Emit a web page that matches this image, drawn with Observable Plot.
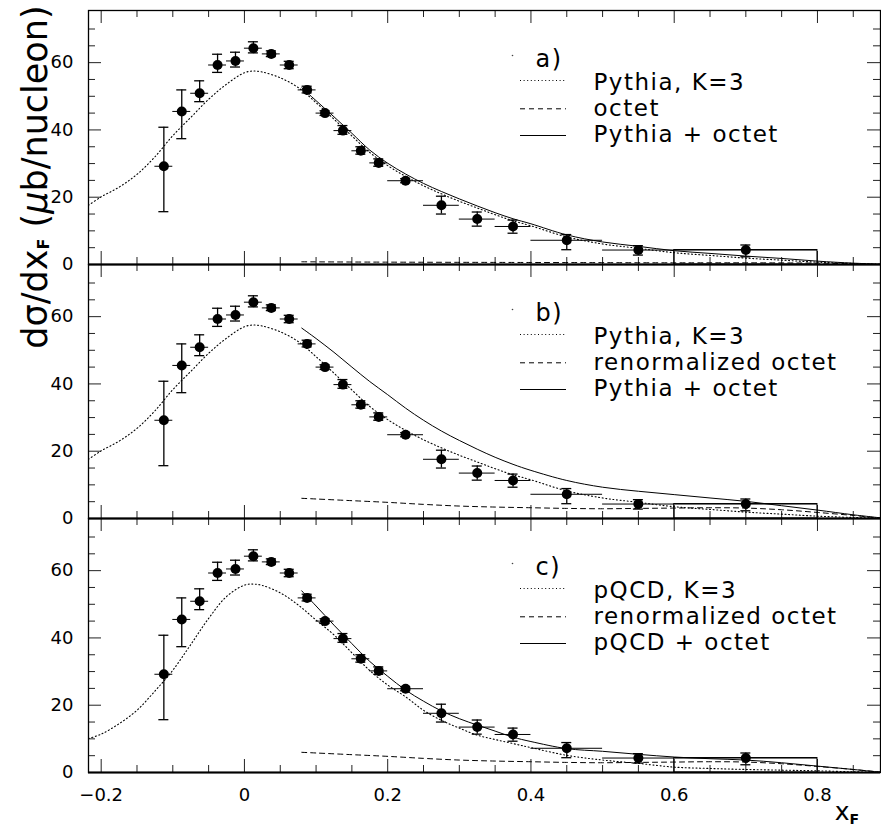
<!DOCTYPE html>
<html><head><meta charset="utf-8">
<script src="https://cdn.jsdelivr.net/npm/d3@7"></script>
<script src="https://cdn.jsdelivr.net/npm/@observablehq/plot@0.6"></script>
<style>
body{margin:0;background:#fff}
#chart{width:881px;height:826px}
g.legendText text{letter-spacing:1.5px}
</style>
</head><body><div id="chart"></div>
<script>
// ---------- panels & legend text ----------
const panels = ["a", "b", "c"];
const panelTags = ["a)", "b)", "c)"];
const legendRow1 = ["Pythia, K=3", "Pythia, K=3", "pQCD, K=3"];
const legendRow2 = ["octet", "renormalized octet", "renormalized octet"];
const legendRow3 = ["Pythia + octet", "Pythia + octet", "pQCD + octet"];

// ---------- measured data points ----------
const ptX   = [-0.1125,-0.0875,-0.0625,-0.0375,-0.0125,0.0125,0.0375,0.0625,0.0875,0.1125,0.1375,0.1625,0.1875,0.225,0.275,0.325,0.375,0.45,0.55,0.7];
const binLo = [-0.125,-0.1,-0.075,-0.05,-0.025,0,0.025,0.05,0.075,0.1,0.125,0.15,0.175,0.2,0.25,0.3,0.35,0.4,0.5,0.6];
const binHi = [-0.1,-0.075,-0.05,-0.025,0,0.025,0.05,0.075,0.1,0.125,0.15,0.175,0.2,0.25,0.3,0.35,0.4,0.5,0.6,0.8];
const ptY   = [29.2,45.5,50.9,59.3,60.5,64.3,62.6,59.3,51.9,45.0,39.8,33.8,30.2,24.9,17.6,13.5,11.3,7.2,4.3,4.3];
const errLo = [15.7,37.4,48.4,57.1,58.7,62.9,61.8,58.2,51.0,44.3,38.7,32.8,29.2,24.3,15.0,11.4,9.3,4.4,2.8,2.3];
const errHi = [40.8,51.9,54.6,62.5,63.1,66.2,63.5,60.4,53.0,45.7,41.3,35.0,31.4,25.5,20.3,15.6,13.2,8.9,5.6,5.8];

// ---------- model curves ----------
const pythiaX = [-0.2177,-0.2,-0.175,-0.15,-0.125,-0.1,-0.075,-0.05,-0.025,0,0.0125,0.025,0.05,0.075,0.1,0.125,0.15,0.175,0.2,0.225,0.25,0.275,0.3,0.325,0.35,0.375,0.4,0.45,0.5,0.55,0.6,0.65,0.7,0.75,0.8,0.85,0.888];
const pythiaY = [17.6,20.1,23.0,26.8,32.0,38.3,43.7,49.1,53.6,57.0,57.5,57.2,55.5,52.6,48.1,43.2,38.2,33.3,29.4,26.2,23.4,21.0,18.8,16.8,14.8,13.0,11.5,8.2,6.1,4.8,3.5,2.7,1.9,1.3,0.7,0.3,0.1];

const pqcdX = [-0.2177,-0.2,-0.175,-0.15,-0.125,-0.1,-0.075,-0.05,-0.025,0,0.0125,0.025,0.05,0.075,0.1,0.125,0.15,0.175,0.2,0.225,0.25,0.275,0.3,0.325,0.35,0.375,0.4,0.45,0.5,0.55,0.6,0.65,0.7,0.75,0.8,0.85,0.888];
const pqcdY = [10.1,11.4,14.5,18.5,24.2,30.4,38.0,45.8,52.3,55.7,56.0,55.6,53.4,49.8,45.3,40.9,35.6,30.3,26.0,22.5,18.5,15.5,13.2,11.1,9.8,8.6,7.4,5.1,3.7,2.7,1.6,1.2,0.9,0.7,0.5,0.2,0.1];

const octetAX = [0.08,0.2,0.4,0.6,0.7,0.8,0.85,0.888];
const octetAY = [0.8,0.7,0.6,0.5,0.5,0.4,0.2,0.0];

const octetRX = [0.08,0.1,0.15,0.2,0.25,0.3,0.35,0.4,0.45,0.5,0.55,0.6,0.65,0.7,0.75,0.8,0.85,0.888];
const octetRY = [6.0,5.8,5.3,4.8,4.2,3.7,3.4,3.2,3.0,2.9,3.0,3.1,3.2,3.1,2.6,1.8,0.9,0.1];

const sumX  = [0.08,0.1,0.125,0.15,0.175,0.2,0.225,0.25,0.275,0.3,0.325,0.35,0.375,0.4,0.45,0.5,0.55,0.6,0.65,0.7,0.75,0.8,0.85,0.888];
const sumAY = [52.5,48.7,43.9,39.0,34.0,30.1,26.9,24.1,21.7,19.5,17.4,15.4,13.6,12.1,8.8,6.7,5.4,4.1,3.3,2.5,1.8,1.0,0.4,0.1];
const sumBY = [56.6,53.5,49.4,45.0,40.7,36.8,32.8,29.2,26.0,23.2,20.6,18.2,16.1,14.3,11.3,9.3,8.1,7.1,6.1,5.1,3.8,2.5,1.1,0.2];
const sumCY = [54.0,49.5,43.8,38.3,33.0,28.6,24.5,21.2,18.3,16.0,14.1,12.3,10.5,9.2,7.1,6.3,5.4,4.6,4.1,3.7,2.9,1.9,0.9,0.1];

// ---------- ticks ----------
const xMajor = [-0.2,0,0.2,0.4,0.6,0.8];
const xMinor = [-0.15,-0.1,-0.05,0.05,0.1,0.15,0.25,0.3,0.35,0.45,0.5,0.55,0.65,0.7,0.75,0.85];
const yMajor = [20,40,60];
const yMinor = [5,10,15,25,30,35,45,50,55,65,70];
const yLabels = [0,20,40,60];

// ---------- layout ----------
const W = 881, H = 826;
const mTop = 10, mBottom = 54, mLeft = 88, mRight = 1;
const xMin = -0.2177, xMax = 0.888, yMax = 75.5;
const facetH = (H - mTop - mBottom) / 3;
const uY = yMax / facetH;                         // data units per pixel (y)
const uX = (xMax - xMin) / (W - mLeft - mRight);  // data units per pixel (x)
const LMaj = 13, LMin = 7;

// ---------- tables ----------
const rows = (xs, ys, panel) => xs.map((x, i) => ({x, y: ys[i], panel}));
const dottedRows = [...rows(pythiaX, pythiaY, "a"), ...rows(pythiaX, pythiaY, "b"), ...rows(pqcdX, pqcdY, "c")];
const dashedRows = [...rows(octetAX, octetAY, "a"), ...rows(octetRX, octetRY, "b"), ...rows(octetRX, octetRY, "c")];
const solidRows  = [...rows(sumX, sumAY, "a"), ...rows(sumX, sumBY, "b"), ...rows(sumX, sumCY, "c")];
const points = ptX.map((x, i) => ({x, y: ptY[i], lo: errLo[i], hi: errHi[i], xlo: binLo[i], xhi: binHi[i]}));
const wideBins = points.filter(d => d.xhi - d.xlo > 0.15);

const font = "DejaVu Sans";
const legendDx = 505, lineIL = 432, lineIR = 314, legFs = 23;
const fmt = d3.format("~g");

const plot = Plot.plot({
  width: W, height: H,
  marginTop: mTop, marginBottom: mBottom, marginLeft: mLeft, marginRight: mRight,
  x: {domain: [xMin, xMax]},
  y: {domain: [0, yMax]},
  fy: {domain: panels, padding: 0, axis: null},
  style: {fontFamily: font, fontSize: "18px", background: "white", color: "black"},
  marks: [
    // inward ticks
    Plot.ruleX(xMajor, {x: d => d, y1: 0, y2: LMaj * uY, stroke: "#222"}),
    Plot.ruleX(xMinor, {x: d => d, y1: 0, y2: LMin * uY, stroke: "#222"}),
    Plot.ruleX(xMajor, {x: d => d, y1: yMax - LMaj * uY, y2: yMax, stroke: "#222"}),
    Plot.ruleX(xMinor, {x: d => d, y1: yMax - LMin * uY, y2: yMax, stroke: "#222"}),
    Plot.ruleY(yMajor, {y: d => d, x1: xMin, x2: xMin + LMaj * uX, stroke: "#222"}),
    Plot.ruleY(yMinor, {y: d => d, x1: xMin, x2: xMin + LMin * uX, stroke: "#222"}),
    Plot.ruleY(yMajor, {y: d => d, x1: xMax - LMaj * uX, x2: xMax, stroke: "#222"}),
    Plot.ruleY(yMinor, {y: d => d, x1: xMax - LMin * uX, x2: xMax, stroke: "#222"}),

    // curves
    Plot.line(dottedRows, {x: "x", y: "y", fy: "panel", z: "panel", stroke: "black", strokeWidth: 1.1, strokeDasharray: "1,2.6", curve: "catmull-rom", clip: true}),
    Plot.line(dashedRows, {x: "x", y: "y", fy: "panel", z: "panel", stroke: "black", strokeWidth: 1, strokeDasharray: "5,4", curve: "catmull-rom", clip: true}),
    Plot.line(solidRows, {x: "x", y: "y", fy: "panel", z: "panel", stroke: "black", strokeWidth: 1, curve: "catmull-rom", clip: true}),

    // data points
    Plot.rect(wideBins, {x1: "xlo", x2: "xhi", y1: 0, y2: "y", fill: "none", stroke: "black", strokeWidth: 1}),
    Plot.ruleY(points, {y: "y", x1: "xlo", x2: "xhi", stroke: "black", strokeWidth: 1}),
    Plot.ruleX(points, {x: "x", y1: "lo", y2: "hi", stroke: "black", strokeWidth: 1.3}),
    Plot.ruleY(points, {y: "lo", x1: "x", x2: "x", insetLeft: -5, insetRight: -5, stroke: "black", strokeWidth: 1.3}),
    Plot.ruleY(points, {y: "hi", x1: "x", x2: "x", insetLeft: -5, insetRight: -5, stroke: "black", strokeWidth: 1.3}),
    Plot.dot(points, {x: "x", y: "y", r: 5, fill: "black", stroke: "none"}),

    // legend
    Plot.dot(panels, {fy: d => d, frameAnchor: "top-left", dx: 424, dy: 45, r: 0.8, fill: "#444", stroke: "none"}),
    Plot.text(panelTags, {fy: (d, i) => panels[i], text: d => d, frameAnchor: "top-left", lineAnchor: "middle", dx: 447, dy: 49, textAnchor: "start", fontSize: legFs + 1, className: "legendText"}),
    Plot.text(legendRow1, {fy: (d, i) => panels[i], text: d => d, frameAnchor: "top-left", lineAnchor: "middle", dx: legendDx, dy: 72, textAnchor: "start", fontSize: legFs, className: "legendText"}),
    Plot.text(legendRow2, {fy: (d, i) => panels[i], text: d => d, frameAnchor: "top-left", lineAnchor: "middle", dx: legendDx, dy: 98.6, textAnchor: "start", fontSize: legFs, className: "legendText"}),
    Plot.text(legendRow3, {fy: (d, i) => panels[i], text: d => d, frameAnchor: "top-left", lineAnchor: "middle", dx: legendDx, dy: 124.4, textAnchor: "start", fontSize: legFs, className: "legendText"}),
    Plot.ruleY(panels, {fy: d => d, y: () => yMax, dy: 70, insetLeft: lineIL, insetRight: lineIR, stroke: "black", strokeWidth: 1.1, strokeDasharray: "1,2.6"}),
    Plot.ruleY(panels, {fy: d => d, y: () => yMax, dy: 98.3, insetLeft: lineIL, insetRight: lineIR, stroke: "black", strokeWidth: 1, strokeDasharray: "5,4"}),
    Plot.ruleY(panels, {fy: d => d, y: () => yMax, dy: 125, insetLeft: lineIL, insetRight: lineIR, stroke: "black", strokeWidth: 1}),

    // frame & axes
    Plot.frame({stroke: "black", strokeWidth: 1.3}),
    Plot.ruleY([0], {stroke: "black", strokeWidth: 2}),
    Plot.axisY({ticks: yLabels, tickSize: 0, tickPadding: 15, fontSize: 18, label: null}),
    Plot.axisX({ticks: xMajor, tickFormat: fmt, tickSize: 0, tickPadding: 16, fontSize: 18, label: null})
  ]
});

document.getElementById("chart").appendChild(plot);

// axis titles with subscripts
const svg = d3.select(plot);
const yl = svg.append("text")
  .attr("transform", "translate(47,177) rotate(-90)")
  .attr("text-anchor", "middle")
  .attr("font-family", font)
  .attr("font-size", 35)
  .attr("fill", "black");
yl.append("tspan").text("dσ/dx");
yl.append("tspan").attr("font-size", 16).attr("font-weight", "bold").attr("dy", 2).text("F");
yl.append("tspan").attr("dy", -2).text(" (");
yl.append("tspan").attr("font-style", "italic").text("µ");
yl.append("tspan").text("b/nucleon)");

const xl = svg.append("text")
  .attr("x", 847).attr("y", 820)
  .attr("font-family", font)
  .attr("font-size", 25)
  .attr("fill", "black");
xl.append("tspan").text("x");
xl.append("tspan").attr("font-size", 14).attr("font-weight", "bold").attr("dy", 4).text("F");
</script>
</body></html>
